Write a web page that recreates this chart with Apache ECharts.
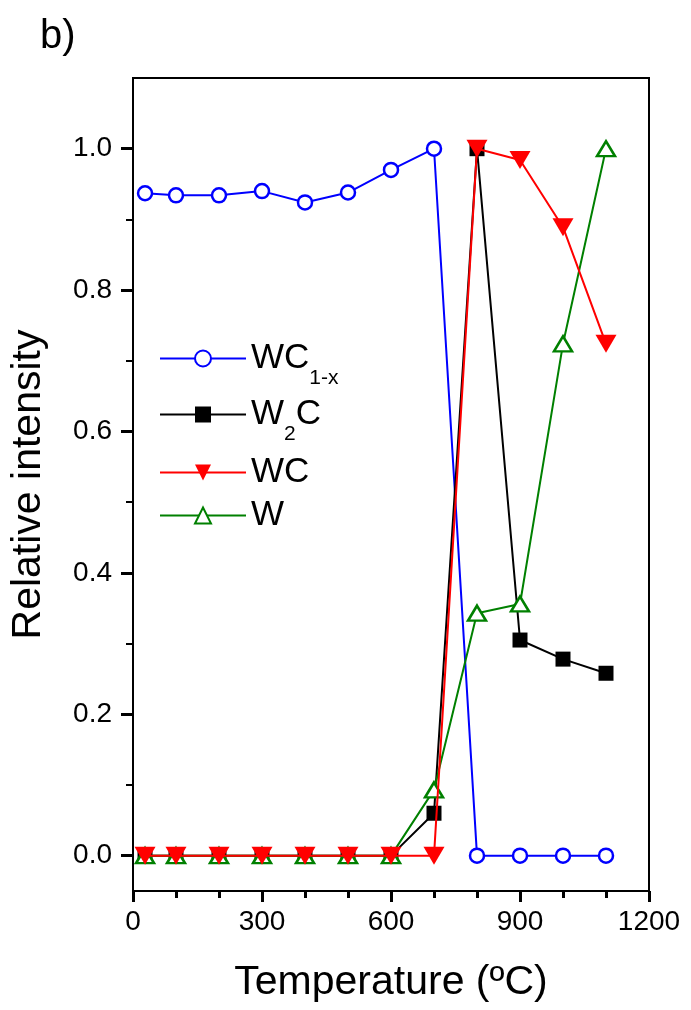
<!DOCTYPE html>
<html>
<head>
<meta charset="utf-8">
<script src="https://cdn.jsdelivr.net/npm/echarts@6/dist/echarts.min.js"></script>
<style>html,body{margin:0;padding:0;background:#fff}#c{width:691px;height:1010px}</style>
</head>
<body>
<div id="c"></div>
<script>
const temps = [28, 100, 200, 300, 400, 500, 600, 700, 800, 900, 1000, 1100];
const wc1x = [0.937, 0.934, 0.934, 0.940, 0.924, 0.938, 0.970, 1.0, 0, 0, 0, 0];
const w2c  = [0, 0, 0, 0, 0, 0, 0, 0.060, 1.0, 0.305, 0.278, 0.258];
const wc   = [0, 0, 0, 0, 0, 0, 0, 0, 1.0, 0.984, 0.889, 0.724];
const w    = [0, 0, 0, 0, 0, 0, 0, 0.093, 0.343, 0.356, 0.724, 1.0];
const yMajorTicks = [0, 0.2, 0.4, 0.6, 0.8, 1.0];
const yAllTicks = [0, 0.1, 0.2, 0.3, 0.4, 0.5, 0.6, 0.7, 0.8, 0.9, 1.0];
const seriesNames = ['WC1-x', 'W2C', 'WC', 'W'];

const font = 'Liberation Sans, Arial, sans-serif';
const pairs = arr => temps.map((t, i) => [t, arr[i]]);

const legendLabel = {
  'WC1-x': '{m|WC}{s|1-x}',
  'W2C': '{m|W}{s|2}{m|C}',
  'WC': '{m|WC}',
  'W': '{m|W}'
};
const legendCenters = [357, 413, 471, 514];
const legends = seriesNames.map((n, i) => ({
  data: [n],
  left: 159,
  top: legendCenters[i] - 16,
  orient: 'vertical',
  padding: 0,
  itemWidth: 86,
  itemHeight: 20,
  selectedMode: false,
  formatter: nm => legendLabel[nm],
  textStyle: {
    color: '#000',
    fontFamily: font,
    rich: {
      m: { fontSize: 35, fontFamily: font, color: '#000', lineHeight: 60, verticalAlign: 'middle' },
      s: { fontSize: 21, fontFamily: font, color: '#000', lineHeight: 20, verticalAlign: 'bottom' }
    }
  }
}));

const chart = echarts.init(document.getElementById('c'), null, { renderer: 'canvas' });
chart.setOption({
  animation: false,
  backgroundColor: '#fff',
  title: {
    text: 'b)', left: 35, top: 12,
    textStyle: { fontSize: 40, fontWeight: 'normal', color: '#000', fontFamily: font }
  },
  legend: legends,
  grid: {
    left: 132, right: 42, top: 78, bottom: 119,
    show: true, borderColor: '#000', borderWidth: 2
  },
  xAxis: {
    type: 'value', min: 0, max: 1200, interval: 300,
    name: 'Temperature (ºC)', nameLocation: 'middle', nameGap: 71,
    nameTextStyle: { fontSize: 41, color: '#000', fontFamily: font },
    axisLine: { show: true, onZero: false, lineStyle: { color: '#000', width: 2 } },
    axisTick: { show: true, length: 11, lineStyle: { color: '#000', width: 3 } },
    minorTick: { show: true, splitNumber: 3, length: 7, lineStyle: { color: '#000', width: 3 } },
    splitLine: { show: false },
    axisLabel: { fontSize: 28, color: '#000', fontFamily: font, margin: 17, formatter: v => String(v) }
  },
  yAxis: [{
    type: 'value', min: -0.05, max: 1.1, position: 'left',
    name: 'Relative intensity', nameLocation: 'middle', nameGap: 84,
    nameTextStyle: { fontSize: 41, color: '#000', fontFamily: font },
    axisLine: { show: true, onZero: false, lineStyle: { color: '#000', width: 2 } },
    axisTick: { show: true, length: 12, customValues: yMajorTicks, lineStyle: { color: '#000', width: 3 } },
    splitLine: { show: false },
    axisLabel: { fontSize: 28, color: '#000', fontFamily: font, margin: 21,
      customValues: yMajorTicks, formatter: v => v.toFixed(1) }
  }, {
    type: 'value', min: -0.05, max: 1.1, position: 'left', offset: 0,
    axisLine: { show: false, onZero: false },
    axisTick: { show: true, length: 7, customValues: yAllTicks, lineStyle: { color: '#000', width: 2 } },
    splitLine: { show: false },
    axisLabel: { show: false }
  }],
  series: [
    {
      name: 'WC1-x', type: 'line', data: pairs(wc1x), yAxisIndex: 0,
      symbol: 'circle', symbolSize: 14,
      lineStyle: { color: '#0000ff', width: 2 },
      itemStyle: { color: '#fff', borderColor: '#0000ff', borderWidth: 2.5 },
      z: 2
    },
    {
      name: 'W2C', type: 'line', data: pairs(w2c), yAxisIndex: 0,
      symbol: 'rect', symbolSize: 15,
      lineStyle: { color: '#000', width: 2 },
      itemStyle: { color: '#000' },
      z: 3
    },
    {
      name: 'W', type: 'line', data: pairs(w), yAxisIndex: 0,
      symbol: 'triangle', symbolSize: [18, 15],
      lineStyle: { color: '#008000', width: 2 },
      itemStyle: { color: '#fff', borderColor: '#008000', borderWidth: 2.5 },
      z: 4
    },
    {
      name: 'WC', type: 'line', data: pairs(wc), yAxisIndex: 0,
      symbol: 'triangle', symbolRotate: 180, symbolSize: [21, 18],
      lineStyle: { color: '#ff0000', width: 2 },
      itemStyle: { color: '#ff0000' },
      z: 5
    }
  ]
});
</script>
</body>
</html>
